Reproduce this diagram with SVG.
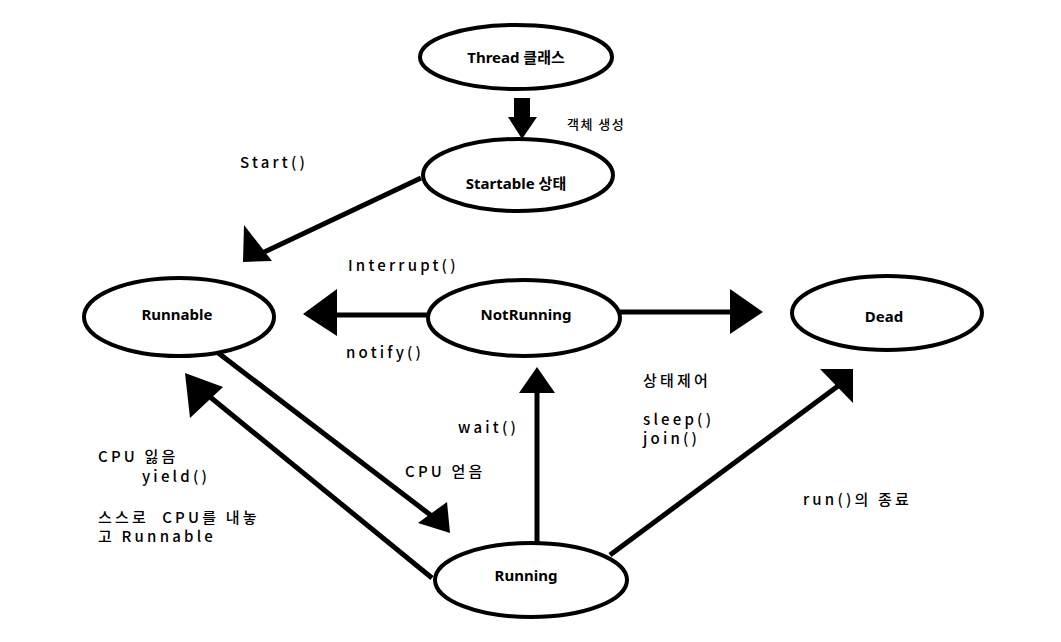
<svg xmlns="http://www.w3.org/2000/svg" width="1061" height="642" viewBox="0 0 1061 642">
<style>
.node ellipse{fill:#fff;stroke:#000;stroke-width:4}
.nt{font-family:"Noto Sans","Noto Sans CJK KR",sans-serif;font-weight:bold;font-size:15px;text-anchor:middle;fill:#000}
.lb{font-family:"Noto Sans CJK KR","Noto Sans",sans-serif;font-size:15px;font-weight:500;letter-spacing:3.2px;fill:#000;white-space:pre}
.sm{font-family:"Noto Sans CJK KR",sans-serif;font-size:13px;font-weight:500;letter-spacing:1.5px;fill:#000}
.edges line{stroke:#000;stroke-width:5}
.edges polygon{fill:#000}
</style>
<rect width="1061" height="642" fill="#fff"/>
<g class="edges" id="connectors">
<rect x="514" y="98" width="16" height="22" fill="#000"/>
<polygon points="508,117 537,117 522,139"/>
<line x1="421" y1="178" x2="258" y2="255"/>
<polygon points="244,225 272,261 243,262"/>
<line x1="428" y1="315" x2="334" y2="315"/>
<polygon points="303,314 337,289 337,336"/>
<line x1="620" y1="312" x2="733" y2="312"/>
<polygon points="730,289 763,312 730,334"/>
<line x1="217" y1="352" x2="437" y2="520"/>
<polygon points="418,523 447,502 450,533"/>
<line x1="432" y1="578" x2="204" y2="392"/>
<polygon points="185,373 223,387 190,418"/>
<line x1="537" y1="542" x2="537" y2="390"/>
<polygon points="519,393 555,393 537,367"/>
<line x1="610" y1="555" x2="838" y2="386"/>
<polygon points="820,369 853,369 853,403"/>
</g>
<g class="node" id="thread"><ellipse cx="516" cy="57" rx="96" ry="32"/><text class="nt" x="516" y="63">Thread 클래스</text></g>
<g class="node" id="startable"><ellipse cx="518" cy="175" rx="95" ry="36"/><text class="nt" x="516" y="189" font-size="14">Startable 상태</text></g>
<g class="node" id="runnable"><ellipse cx="179" cy="317" rx="95" ry="39"/><text class="nt" x="177" y="320">Runnable</text></g>
<g class="node" id="notrunning"><ellipse cx="524" cy="318" rx="96" ry="38"/><text class="nt" x="526" y="320">NotRunning</text></g>
<g class="node" id="dead"><ellipse cx="887" cy="313" rx="95" ry="37"/><text class="nt" x="884" y="322">Dead</text></g>
<g class="node" id="running"><ellipse cx="531" cy="580" rx="96" ry="37"/><text class="nt" x="526" y="581">Running</text></g>
<text class="sm" x="567" y="129">객체 생성</text>
<text class="lb" x="240" y="168">Start()</text>
<text class="lb" x="348" y="271">Interrupt()</text>
<text class="lb" x="346" y="358">notify()</text>
<text class="lb" x="643" y="386" letter-spacing="1.5">상태제어</text>
<text class="lb" x="643" y="425">sleep()</text>
<text class="lb" x="643" y="444">join()</text>
<text class="lb" x="458" y="433">wait()</text>
<text class="lb" x="405" y="477" letter-spacing="2">CPU 얻음</text>
<text class="lb" x="98" y="462" letter-spacing="2">CPU 잃음</text>
<text class="lb" x="142" y="482">yield()</text>
<text class="lb" x="98" y="523" letter-spacing="2">스스로  CPU를 내놓</text>
<text class="lb" x="98" y="542" letter-spacing="2">고 Runnable</text>
<text class="lb" x="803" y="505" letter-spacing="2.6">run()의 종료</text>
</svg>
